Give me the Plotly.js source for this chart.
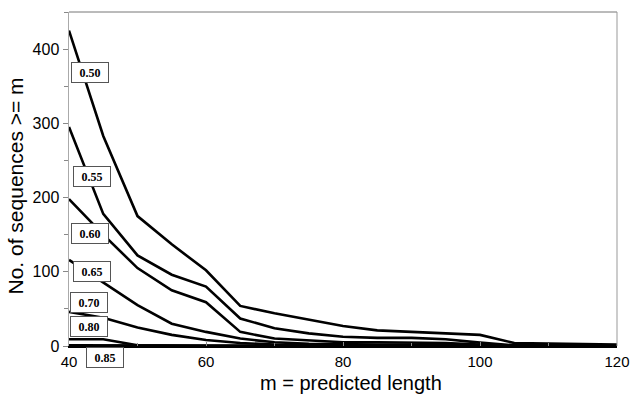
<!DOCTYPE html>
<html>
<head>
<meta charset="utf-8">
<script src="https://cdn.plot.ly/plotly-3.0.1.min.js"></script>
<style>html,body{margin:0;padding:0;background:#fff;}#chart{width:630px;height:396px;}</style>
</head>
<body>
<div id="chart"></div>
<script>
const lengths = [40,45,50,55,60,65,70,75,80,85,90,95,100,105,110,115,120];
const thresholds = ["0.50","0.55","0.60","0.65","0.70","0.80","0.85"];
const s050 = [425,283,175,137,102,54,44,35,27,21,19,18,15,4,3,2,2];
const s055 = [295,178,122,96,80,37,24,17,12.5,11,11,9,4.5,1,1,1,1];
const s060 = [198,150,105,75,59,19,10,7,5,5,5,4,2,0,0,0,0];
const s065 = [116,85,55,30,19,10,5,3,2,2,2,1,1,0,0,0,0];
const s070 = [46,38,25,15,8,4,2,1,1,1,1,0,0,0,0,0,0];
const s080 = [9,9,1,0,0,0,0,0,0,0,0,0,0,0,0,0,0];
const s085 = [1,1,0,0,0,0,0,0,0,0,0,0,0,0,0,0,0];
const series = [s050,s055,s060,s065,s070,s080,s085];
const labelX = [43.07,43.3,43.07,43.3,42.9,42.85,45.3];
const labelY = [368,229,151,100,59,26,-15];
const xTitle = 'm = predicted length';
const yTitle = 'No. of sequences >= m';

const traces = series.map((s,i)=>({
  x: lengths, y: s, type:'scatter', mode:'lines', name: thresholds[i],
  line:{color:'#000', width:2.6}, cliponaxis:false, hoverinfo:'skip'
}));

const yMax = 450;
const annotations = thresholds.map((t,i)=>({
  x: labelX[i], y: labelY[i] / yMax, xref:'x', yref:'paper', xanchor:'center', yanchor:'middle',
  text:'<b>'+t+'</b>', showarrow:false,
  font:{family:'Liberation Serif, Times New Roman, serif', size:12, color:'#000'},
  bgcolor:'#fff', bordercolor:'#555', borderwidth:1, borderpad:1, width:34, height:17
}));
annotations.push({
  text:xTitle, xref:'paper', yref:'paper', x:0.515, y:-0.11, xanchor:'center', yanchor:'middle',
  showarrow:false, font:{family:'Liberation Sans, Arial, sans-serif', size:20, color:'#000'}
});
annotations.push({
  text:yTitle, xref:'paper', yref:'paper', x:-0.097, y:0.48, xanchor:'center', yanchor:'middle',
  textangle:-90, showarrow:false, font:{family:'Liberation Sans, Arial, sans-serif', size:21, color:'#000'}
});

const layout = {
  width:630, height:396,
  margin:{l:69, r:13, t:12, b:50},
  paper_bgcolor:'#fff', plot_bgcolor:'#fff',
  showlegend:false,
  font:{family:'Liberation Sans, Arial, sans-serif', color:'#000'},
  xaxis:{
    range:[40,120], tickvals:[40,60,80,100,120], ticks:'inside', ticklen:4, tickcolor:'#888',
    minor:{dtick:10, ticks:'inside', ticklen:3, tickcolor:'#888'},
    showgrid:false, zeroline:false, showline:true, linecolor:'#000', linewidth:1.5,
    tickfont:{size:15}, ticklabelstandoff:1
  },
  yaxis:{
    range:[0,yMax], tickvals:[0,100,200,300,400], ticks:'outside', ticklen:5, tickcolor:'#888',
    minor:{dtick:50, ticks:'outside', ticklen:4, tickcolor:'#888'},
    showgrid:false, zeroline:false, showline:true, linecolor:'#aaa', linewidth:1.5,
    tickfont:{size:16}
  },
  shapes:[
    {type:'line', xref:'paper', yref:'paper', x0:0, x1:1, y0:1, y1:1, line:{color:'#777', width:1}},
    {type:'line', xref:'paper', yref:'paper', x0:1, x1:1, y0:0, y1:1, line:{color:'#999', width:1}}
  ],
  annotations: annotations
};

Plotly.newPlot('chart', traces, layout, {displayModeBar:false, staticPlot:true});
</script>
</body>
</html>
